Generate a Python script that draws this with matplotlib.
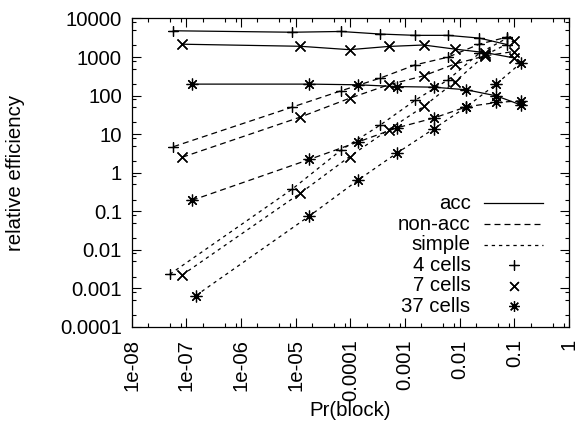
import matplotlib
matplotlib.use("Agg")
import matplotlib.pyplot as plt
from matplotlib.ticker import FixedLocator, FixedFormatter, NullFormatter

plt.rcParams['font.family'] = ['Liberation Sans', 'DejaVu Sans']
plt.rcParams['lines.scale_dashes'] = False
FONTSIZE = 14.7

# Pr(block) for each cell count (same load points for all schemes)
pr_4 = [5.8e-8, 8.6e-6, 6.7e-5, 3.5e-4, 1.55e-3, 6.1e-3, 0.023, 0.074]
pr_7 = [8.4e-8, 1.21e-5, 9.7e-5, 5.0e-4, 2.19e-3, 8.3e-3, 0.0296, 0.0975]
pr_37 = [1.26e-7, 1.79e-5, 1.41e-4, 7.1e-4, 3.34e-3, 0.0133, 0.047, 0.132]
pr_4_simple = [5.0e-8, 8.6e-6, 6.7e-5, 3.5e-4, 1.55e-3, 6.1e-3, 0.023, 0.074]
pr_37_simple = [1.49e-7, 1.79e-5, 1.41e-4, 7.1e-4, 3.34e-3, 0.0133, 0.047, 0.132]

# relative efficiency
acc_4 = [4800, 4400, 4600, 3950, 3650, 3650, 3100, 2100]
acc_7 = [2150, 1900, 1550, 1880, 2050, 1600, 1300, 950]
acc_37 = [198, 198, 190, 171, 165, 141, 98, 57]
nonacc_4 = [4.7, 50, 132, 283, 627, 990, 2160, 3300]
nonacc_7 = [2.5, 27.5, 85, 190, 325, 665, 1075, 1390]
nonacc_37 = [0.19, 2.2, 6.3, 14.5, 26, 51, 66, 73]
simple_4 = [0.0023, 0.37, 3.8, 17, 76, 255, 1260, 3100]
simple_7 = [0.0022, 0.29, 2.6, 13, 52, 230, 1140, 2630]
simple_37 = [0.00064, 0.075, 0.65, 3.2, 13.6, 51, 200, 700]

xtick_vals = [1e-8, 1e-7, 1e-6, 1e-5, 1e-4, 1e-3, 1e-2, 1e-1, 1]
xtick_labels = ['1e-08', '1e-07', '1e-06', '1e-05', '0.0001', '0.001', '0.01', '0.1', '1']
ytick_vals = [1e-4, 1e-3, 1e-2, 1e-1, 1, 10, 100, 1000, 10000]
ytick_labels = ['0.0001', '0.001', '0.01', '0.1', '1', '10', '100', '1000', '10000']

# line styles (gnuplot-ish dashes, in points)
SOLID = '-'
DASHED = (0, (4.3, 2.9))
DOTTED = (0, (2.4, 2.8))
# marker, size
PLUS = ((4, 2, 0), 7.5)
CROSS = ((4, 2, 45), 10.0)
STAR = ((8, 2, 0), 8.5)
LW = 0.9
MEW = 0.9

series = [
    (pr_4, acc_4, SOLID, PLUS),
    (pr_7, acc_7, SOLID, CROSS),
    (pr_37, acc_37, SOLID, STAR),
    (pr_4, nonacc_4, DASHED, PLUS),
    (pr_7, nonacc_7, DASHED, CROSS),
    (pr_37, nonacc_37, DASHED, STAR),
    (pr_4_simple, simple_4, DOTTED, PLUS),
    (pr_7, simple_7, DOTTED, CROSS),
    (pr_37_simple, simple_37, DOTTED, STAR),
]

fig = plt.figure(figsize=(5.76, 4.26), dpi=100)
ax = fig.add_axes([0.2286, 0.2331, 0.7592, 0.7235])

for x, y, ls, (mk, ms) in series:
    ax.plot(x, y, color='black', linestyle=ls, linewidth=LW,
            marker=mk, markersize=ms, markeredgewidth=MEW)

ax.set_xscale('log')
ax.set_yscale('log')
ax.set_xlim(1e-8, 1)
ax.set_ylim(1e-4, 1e4)

minor_x = [m * 10.0 ** e for e in range(-8, 0) for m in (2, 5, 8)]
minor_y = [m * 10.0 ** e for e in range(-4, 4) for m in (2, 5, 8)]
ax.xaxis.set_major_locator(FixedLocator(xtick_vals))
ax.xaxis.set_major_formatter(FixedFormatter(xtick_labels))
ax.xaxis.set_minor_locator(FixedLocator(minor_x))
ax.xaxis.set_minor_formatter(NullFormatter())
ax.yaxis.set_major_locator(FixedLocator(ytick_vals))
ax.yaxis.set_major_formatter(FixedFormatter(ytick_labels))
ax.yaxis.set_minor_locator(FixedLocator(minor_y))
ax.yaxis.set_minor_formatter(NullFormatter())

ax.tick_params(which='both', direction='in', top=True, right=True, width=0.8,
               labelsize=FONTSIZE)
ax.tick_params(which='major', length=6.5)
ax.tick_params(which='minor', length=3.2)
ax.tick_params(axis='x', which='major', pad=9, labelrotation=90)
ax.tick_params(axis='y', which='major', pad=7)
for lab in ax.get_xticklabels():
    lab.set_va('top')
    lab.set_ha('center')
for sp in ax.spines.values():
    sp.set_linewidth(0.9)

ax.set_xlabel('Pr(block)', fontsize=FONTSIZE)
ax.set_ylabel('relative efficiency', fontsize=FONTSIZE)
ax.xaxis.set_label_coords(0.5, -0.242)
ax.yaxis.set_label_coords(-0.245, 0.5)

# key, gnuplot style: right-justified text, sample to the right
key_text = ['acc', 'non-acc', 'simple', '4 cells', '7 cells', '37 cells']
key_style = [(SOLID, None), (DASHED, None), (DOTTED, None),
             (None, PLUS), (None, CROSS), (None, STAR)]
for i, (txt, (ls, mk)) in enumerate(zip(key_text, key_style)):
    yk = 0.400 - i * 0.0668
    ax.text(0.775, yk, txt, transform=ax.transAxes, ha='right', va='center',
            fontsize=FONTSIZE)
    if ls is not None:
        ax.plot([0.806, 0.941], [yk, yk], transform=ax.transAxes, color='black',
                linestyle=ls, linewidth=LW)
    else:
        ax.plot([0.874], [yk], transform=ax.transAxes, color='black',
                linestyle='none', marker=mk[0], markersize=mk[1] * 0.9,
                markeredgewidth=MEW)

fig.savefig('out.png', dpi=100)
